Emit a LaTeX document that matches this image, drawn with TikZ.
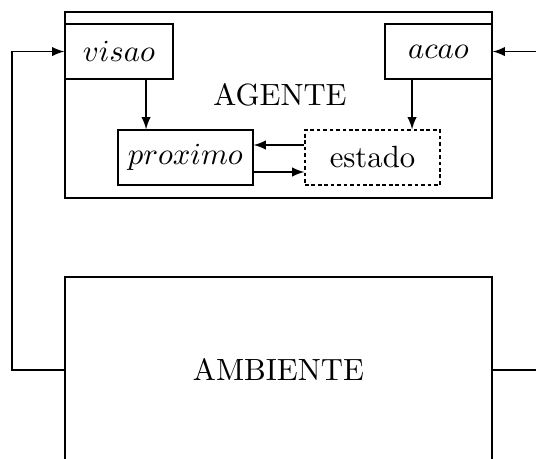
\documentclass[tikz,border=0pt]{standalone}
\usetikzlibrary{positioning}
\tikzset{
    bloco/.style={draw, rectangle, inner sep=0pt, minimum height=0.63cm},
    pontilhado/.style={bloco, dash pattern=on 1.2pt off 0.9pt},
    seta/.style={-latex}
}
\begin{document}
\begin{tikzpicture}
            \useasboundingbox (0,0) rectangle (6.136,-5.254);
            \clip (0,0) rectangle (6.136,-5.254);
            % agente
            \node[bloco, minimum width=4.888cm, minimum height=2.13cm] (agente) at (3.188,-1.202) {};
            \node (agentelabel) at (3.205,-1.09) {AGENTE};
            \node[bloco, minimum width=1.236cm] (visao) at (1.362,-0.59) {$visao$};
            \node[bloco, minimum width=1.225cm] (acao) at (5.02,-0.59) {$acao$};
            \node[bloco, minimum width=1.545cm] (proximo) at (2.123,-1.803) {$proximo$};
            \node[pontilhado, minimum width=1.545cm] (estado) at (4.264,-1.803) {estado};
            \draw[seta] ([xshift=0.31cm]visao.south) -- ([xshift=0.31cm]visao.south |- proximo.north);
            \draw[seta] ([xshift=-0.303cm]acao.south) -- ([xshift=-0.303cm]acao.south |- estado.north);
            \draw[seta] ([yshift=0.143cm]estado.west) -- ([yshift=0.143cm]proximo.east);
            \draw[seta] ([yshift=-0.166cm]proximo.east) -- ([yshift=-0.166cm]estado.west);
            % ambiente
            \node[bloco, minimum width=4.888cm, minimum height=2.13cm] (ambiente) at (3.188,-4.235) {AMBIENTE};
            \coordinate (esq) at (0.137,0);
            \coordinate (dir) at (6.4,0);
            \draw[seta] (ambiente.west) -- (ambiente.west -| esq) |- (visao.west);
            \draw[seta] (ambiente.east) -- (ambiente.east -| dir) |- (acao.east);
        \end{tikzpicture}
\end{document}
